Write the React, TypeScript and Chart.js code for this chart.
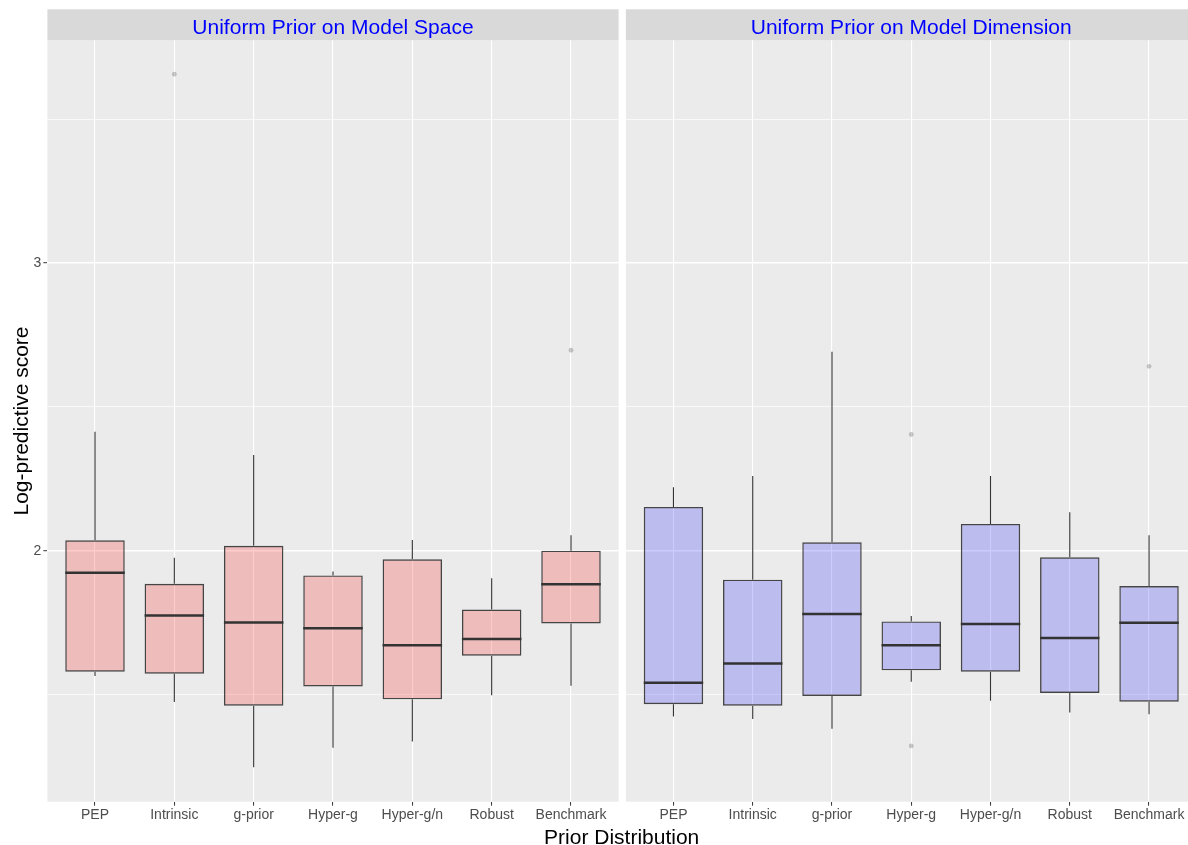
import React, { useEffect, useRef } from "react";
import { Chart, registerables } from "chart.js";

Chart.register(...registerables);

const FONT = "'Liberation Sans', Arial, sans-serif";

const CATEGORIES = ["PEP", "Intrinsic", "g-prior", "Hyper-g", "Hyper-g/n", "Robust", "Benchmark"];
const PANEL_TITLES = ["Uniform Prior on Model Space", "Uniform Prior on Model Dimension"];
const X_TITLE = "Prior Distribution";
const Y_TITLE = "Log-predictive score";

// Panel 1: Uniform Prior on Model Space
const SPACE_LOW = [1.564, 1.474, 1.247, 1.315, 1.336, 1.497, 1.530];
const SPACE_Q1 = [1.579, 1.572, 1.461, 1.528, 1.483, 1.635, 1.747];
const SPACE_MEDIAN = [1.923, 1.775, 1.750, 1.730, 1.671, 1.693, 1.883];
const SPACE_Q3 = [2.036, 1.885, 2.017, 1.914, 1.970, 1.795, 2.000];
const SPACE_HIGH = [2.414, 1.975, 2.333, 1.928, 2.037, 1.904, 2.054];
const SPACE_OUTLIERS = [[], [3.657], [], [], [], [], [2.697]];

// Panel 2: Uniform Prior on Model Dimension
const DIM_LOW = [1.423, 1.415, 1.381, 1.544, 1.478, 1.437, 1.431];
const DIM_Q1 = [1.466, 1.461, 1.495, 1.584, 1.579, 1.505, 1.475];
const DIM_MEDIAN = [1.541, 1.608, 1.780, 1.671, 1.745, 1.696, 1.749];
const DIM_Q3 = [2.152, 1.899, 2.029, 1.754, 2.093, 1.977, 1.877];
const DIM_HIGH = [2.221, 2.260, 2.692, 1.773, 2.260, 2.134, 2.054];
const DIM_OUTLIERS = [[], [], [], [2.404, 1.321], [], [], [2.641]];

const Y_TICKS = [1.5, 2, 2.5, 3, 3.5];
const Y_TICK_LABELS = ["", "2", "", "3", ""];
const Y_MIN = 1.127;
const Y_MAX = 3.775;
const X_MIN = 0.4;
const X_MAX = 7.6;

const BOX_WIDTH = 0.75;
const FILLS = ["rgba(255,0,0,0.2)", "rgba(0,0,255,0.2)"];

const panelPlugin = {
  id: "panelStrip",
  beforeDraw(chart: any, _args: any, opts: any) {
    const { ctx, chartArea: a } = chart;
    ctx.save();
    ctx.fillStyle = "#EBEBEB";
    ctx.fillRect(a.left, a.top, a.right - a.left, a.bottom - a.top);
    ctx.fillStyle = "#D9D9D9";
    ctx.fillRect(a.left, a.top - 31, a.right - a.left, 31);
    ctx.fillStyle = "#0000FF";
    ctx.font = `21px ${FONT}`;
    ctx.textAlign = "center";
    ctx.textBaseline = "alphabetic";
    const cx = chart.scales.x.getPixelForValue((1 + CATEGORIES.length) / 2);
    ctx.fillText(opts.title, cx, a.top - 6.6);
    ctx.restore();
  },
};

function buildDatasets(
  low: number[], q1: number[], med: number[], q3: number[], high: number[],
  outliers: number[][], fill: string
) {
  const xs = CATEGORIES.map((_, i) => i + 1);
  const half = BOX_WIDTH / 2;
  const medianPts: any[] = [];
  const whiskerPts: any[] = [];
  const outlierPts: any[] = [];
  xs.forEach((x, i) => {
    medianPts.push({ x: x - half, y: med[i] }, { x: x + half, y: med[i] }, { x, y: null });
    whiskerPts.push(
      { x, y: low[i] }, { x, y: q1[i] }, { x, y: null },
      { x, y: q3[i] }, { x, y: high[i] }, { x, y: null }
    );
    outliers[i].forEach((v) => outlierPts.push({ x, y: v }));
  });
  return [
    {
      type: "line", data: medianPts, borderColor: "#333333", borderWidth: 2.5,
      pointRadius: 0, spanGaps: false, fill: false,
    },
    {
      type: "bar", data: xs.map((x, i) => ({ x, y: [q1[i], q3[i]] })),
      backgroundColor: fill, borderColor: "rgba(51,51,51,0.9)", borderWidth: 1.4,
      borderSkipped: false, barPercentage: BOX_WIDTH, categoryPercentage: 1,
    },
    {
      type: "line", data: whiskerPts, borderColor: "#333333", borderWidth: 1.1,
      pointRadius: 0, spanGaps: false, fill: false,
    },
    {
      type: "line", data: outlierPts, showLine: false, pointRadius: 2.4,
      pointBackgroundColor: "rgba(0,0,0,0.2)", pointBorderWidth: 0, pointHoverRadius: 2.4,
    },
  ];
}

function makeConfig(panel: number): any {
  const isLeft = panel === 0;
  const datasets = isLeft
    ? buildDatasets(SPACE_LOW, SPACE_Q1, SPACE_MEDIAN, SPACE_Q3, SPACE_HIGH, SPACE_OUTLIERS, FILLS[0])
    : buildDatasets(DIM_LOW, DIM_Q1, DIM_MEDIAN, DIM_Q3, DIM_HIGH, DIM_OUTLIERS, FILLS[1]);
  return {
    type: "bar",
    data: { datasets },
    plugins: [panelPlugin],
    options: {
      animation: false,
      responsive: false,
      devicePixelRatio: 1,
      events: [],
      layout: { padding: { top: 40.3, bottom: 0, left: isLeft ? 0 : 4.9, right: isLeft ? 0.8 : 0.3 } },
      plugins: {
        legend: { display: false },
        tooltip: { enabled: false },
        title: { display: false },
        panelStrip: { title: PANEL_TITLES[panel] },
      },
      scales: {
        x: {
          type: "linear",
          min: X_MIN,
          max: X_MAX,
          offset: false,
          afterBuildTicks: (s: any) => {
            s.ticks = CATEGORIES.map((_, i) => ({ value: i + 1 }));
          },
          afterFit: (s: any) => {
            s.height = 43.3;
          },
          ticks: {
            autoSkip: false,
            maxRotation: 0,
            minRotation: 0,
            padding: 1,
            color: "#4D4D4D",
            font: { family: FONT, size: 14 },
            callback: (v: number) => CATEGORIES[Math.round(v) - 1] ?? "",
          },
          grid: {
            offset: false,
            color: "#FFFFFF",
            lineWidth: 1.1,
            drawTicks: true,
            tickLength: 4,
            tickColor: "#333333",
            tickWidth: 1,
          },
          border: { display: false },
        },
        y: {
          type: "linear",
          min: Y_MIN,
          max: Y_MAX,
          beginAtZero: false,
          afterBuildTicks: (s: any) => {
            s.ticks = Y_TICKS.map((v) => ({ value: v }));
          },
          afterFit: (s: any) => {
            s.width = isLeft ? 47.4 : 0;
          },
          ticks: {
            display: isLeft,
            padding: 2,
            color: "#4D4D4D",
            font: { family: FONT, size: 14 },
            callback: (_v: number, i: number) => Y_TICK_LABELS[i] ?? "",
          },
          grid: {
            color: "#FFFFFF",
            lineWidth: (c: any) => (Y_TICK_LABELS[c.index] ? 1.4 : 0.7),
            drawTicks: isLeft,
            tickLength: 4,
            tickColor: (c: any) => (Y_TICK_LABELS[c.index] ? "#333333" : "rgba(0,0,0,0)"),
            tickWidth: 1,
          },
          border: { display: false },
          title: {
            display: isLeft,
            text: Y_TITLE,
            color: "#000000",
            font: { family: FONT, size: 21 },
            padding: { top: 9.5, bottom: 0 },
          },
        },
      },
    },
  };
}

export default function App() {
  const leftRef = useRef<HTMLCanvasElement>(null);
  const rightRef = useRef<HTMLCanvasElement>(null);

  useEffect(() => {
    const c1 = new Chart(leftRef.current as HTMLCanvasElement, makeConfig(0));
    const c2 = new Chart(rightRef.current as HTMLCanvasElement, makeConfig(1));
    return () => {
      c1.destroy();
      c2.destroy();
    };
  }, []);

  return (
    <div
      style={{
        position: "absolute",
        left: 0,
        top: 0,
        width: 1188,
        height: 845,
        background: "#FFFFFF",
        overflow: "hidden",
      }}
    >
      <canvas ref={leftRef} width={621} height={845} style={{ position: "absolute", left: 0, top: 0 }} />
      <canvas ref={rightRef} width={578} height={845} style={{ position: "absolute", left: 621, top: 0 }} />
      <div
        style={{
          position: "absolute",
          left: 621.7,
          top: 825.5,
          transform: "translateX(-50%)",
          fontFamily: FONT,
          fontSize: 21,
          lineHeight: "21px",
          whiteSpace: "nowrap",
          color: "#000000",
        }}
      >
        {X_TITLE}
      </div>
    </div>
  );
}
